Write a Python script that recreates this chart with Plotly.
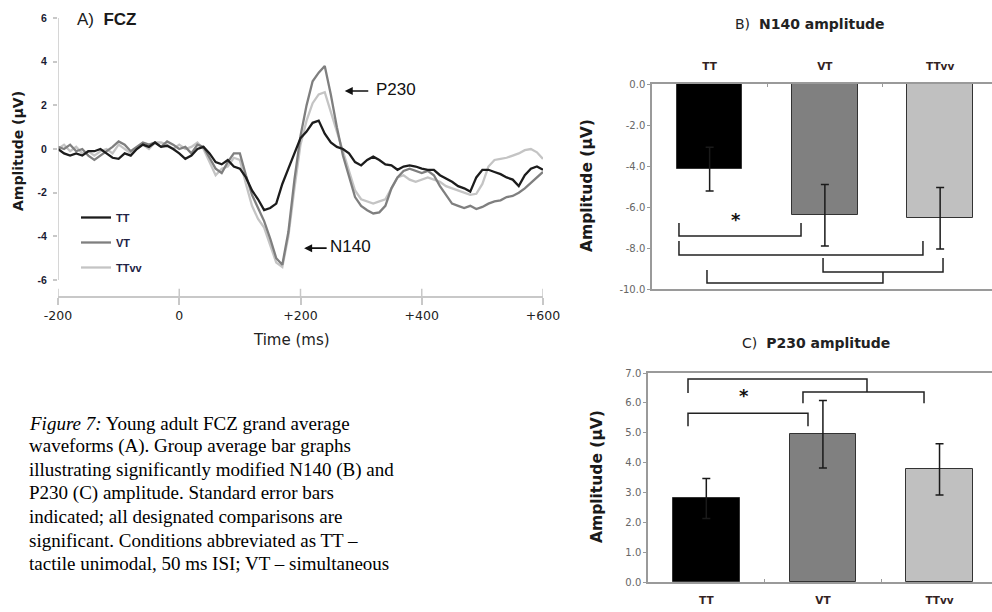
import plotly.graph_objects as go

W, H = 992, 612

# ---------------- Panel A data (FCZ grand average waveforms) ----------------
time_ms = list(range(-200, 601, 10))
tt_uv = [0.0, -0.2, -0.3, -0.2, -0.3, -0.1, -0.1, 0.0, -0.2, -0.4,
         -0.45, -0.2, -0.3, 0.0, 0.2, 0.1, 0.3, 0.1, 0.15, 0.0,
         -0.2, -0.45, -0.3, 0.0, 0.1, -0.2, -0.6, -0.7, -0.5, -0.8,
         -0.9, -1.3, -1.9, -2.3, -2.8, -2.7, -2.5, -1.6, -0.9, -0.2,
         0.5, 0.8, 1.2, 1.3, 0.7, 0.3, 0.1, 0.0, -0.2, -0.6,
         -0.75, -0.5, -0.35, -0.5, -0.7, -0.75, -0.95, -0.8, -0.75, -0.8,
         -0.9, -0.95, -0.95, -1.2, -1.35, -1.5, -1.7, -1.8, -1.95, -1.3,
         -0.95, -0.95, -1.05, -1.15, -1.3, -1.4, -1.7, -1.2, -0.9, -0.8,
         -0.95]
vt_uv = [0.1, 0.0, 0.2, -0.1, 0.0, -0.3, -0.5, -0.3, -0.1, 0.1,
         0.35, 0.2, -0.1, 0.1, 0.3, 0.2, 0.3, 0.1, 0.35, 0.2,
         0.0, 0.1, -0.2, 0.2, 0.1, -0.4, -0.9, -1.1, -0.6, -0.2,
         -0.2, -1.2, -2.1, -2.7, -3.3, -4.1, -5.0, -5.3, -3.8, -1.4,
         0.6, 2.0, 3.1, 3.5, 3.8, 2.5, 1.0, -0.3, -1.2, -2.2,
         -2.6, -2.8, -2.95, -2.9, -2.6, -1.8, -1.3, -1.0, -0.9, -1.0,
         -1.1, -1.0, -1.2, -1.7, -2.1, -2.5, -2.6, -2.7, -2.6, -2.75,
         -2.65, -2.5, -2.4, -2.35, -2.2, -2.15, -2.0, -1.8, -1.55, -1.3,
         -1.05]
ttvv_uv = [0.0, 0.2, -0.1, 0.1, -0.2, -0.1, -0.3, -0.1, 0.0, -0.2,
           0.2, 0.0, -0.2, 0.0, 0.2, 0.0, 0.3, 0.3, 0.2, 0.0,
           0.2, 0.0, 0.1, 0.3, 0.0, -0.6, -1.2, -0.9, -0.8, -0.4,
           -0.5, -1.6, -2.6, -3.2, -3.6, -4.4, -5.2, -5.4, -4.0, -1.8,
           0.2, 1.3, 2.1, 2.5, 2.6, 1.7, 0.8, 0.0, -0.9, -1.9,
           -2.3, -2.4, -2.5, -2.4, -2.3, -1.8, -1.3, -1.2, -1.4, -1.5,
           -1.4, -1.3, -1.4, -1.5, -1.7, -1.8, -1.9, -2.0, -2.1, -2.05,
           -1.6, -0.8, -0.5, -0.45, -0.4, -0.3, -0.2, -0.05, 0.0, -0.15,
           -0.45]

a_yticks = [-6, -4, -2, 0, 2, 4, 6]
a_yticktext = ["-6", "-4", "-2", "0", "2", "4", "6"]
a_xticks = [-200, 0, 200, 400, 600]
a_xticktext = ["-200", "0", "+200", "+400", "+600"]

# ---------------- Panels B and C data ----------------
conditions = ["TT", "VT", "TTvv"]
n140_amp = [-4.15, -6.4, -6.55]
n140_se = [1.07, 1.5, 1.5]
p230_amp = [2.8, 4.95, 3.77]
p230_se = [0.67, 1.13, 0.86]
bar_colors = ["#000000", "#808080", "#c0c0c0"]

b_yticks = [0, -2, -4, -6, -8, -10]
b_yticktext = ["0.0", "-2.0", "-4.0", "-6.0", "-8.0", "-10.0"]
c_yticks = [0, 1, 2, 3, 4, 5, 6, 7]
c_yticktext = ["0.0", "1.0", "2.0", "3.0", "4.0", "5.0", "6.0", "7.0"]

# significance brackets: (x_left, x_right, y_tip_left, y_bar, y_tip_right)
b_brackets = [(-0.266, 0.793, -6.78, -7.41, -6.78),
              (-0.266, 1.851, -7.66, -8.34, -7.66),
              (0.984, 2.025, -8.49, -9.17, -8.49),
              (-0.023, 1.504, -9.07, -9.71, -9.17)]
c_brackets = [(-0.157, 1.378, 6.33, 6.80, 6.36),
              (0.829, 1.867, 5.99, 6.36, 5.99),
              (-0.157, 0.872, 5.22, 5.65, 5.22)]

caption_lines = [
    "<i>Figure 7:</i> Young adult FCZ grand average",
    "waveforms (A). Group average bar graphs",
    "illustrating significantly modified N140 (B) and",
    "P230 (C) amplitude. Standard error bars",
    "indicated; all designated comparisons are",
    "significant. Conditions abbreviated as TT \u2013",
    "tactile unimodal, 50 ms ISI; VT \u2013 simultaneous",
]


def px(x):
    return x / W


def py(y):
    return 1 - y / H


fig = go.Figure()

# waveform traces
wave_series = [("TT", tt_uv, "#1c1c1c", 1), ("VT", vt_uv, "#7f7f7f", 2),
               ("TTvv", ttvv_uv, "#c4c4c4", 3)]
for name, vals, col, rank in reversed(wave_series):
    fig.add_trace(go.Scatter(x=time_ms, y=vals, mode="lines", name="<b>%s</b>" % name,
                             line=dict(color=col, width=2.3),
                             legendgroup=name, legendrank=rank,
                             xaxis="x", yaxis="y"))

# bars
cat_idx = list(range(len(conditions)))
fig.add_trace(go.Bar(x=cat_idx, y=n140_amp, width=0.57,
                     marker=dict(color=bar_colors, line=dict(color="#333333", width=1)),
                     error_y=dict(type="data", array=n140_se, color="#1a1a1a",
                                  thickness=1.5, width=4),
                     showlegend=False, xaxis="x2", yaxis="y2"))
fig.add_trace(go.Bar(x=cat_idx, y=p230_amp, width=0.57,
                     marker=dict(color=bar_colors, line=dict(color="#333333", width=1)),
                     error_y=dict(type="data", array=p230_se, color="#1a1a1a",
                                  thickness=1.5, width=4),
                     showlegend=False, xaxis="x3", yaxis="y3"))

shapes = []
# panel A y-axis line (from -6 to 6)
shapes.append(dict(type="line", xref="x", yref="y", x0=-200, x1=-200, y0=-6, y1=6,
                   line=dict(color="#c8c8c8", width=1.5)))
# inner halves of the crossing x ticks in panel A
A_YMIN = -6.73
for t in a_xticks:
    shapes.append(dict(type="line", xref="x", yref="y", x0=t, x1=t,
                       y0=A_YMIN, y1=A_YMIN + 0.33,
                       line=dict(color="#c8c8c8", width=1.5)))

for br, xr, yr in [(b_brackets, "x2", "y2"), (c_brackets, "x3", "y3")]:
    for (xl, xrr, y1, yb, y2) in br:
        shapes.append(dict(type="path", xref=xr, yref=yr,
                           path=f"M {xl},{y1} L {xl},{yb} L {xrr},{yb} L {xrr},{y2}",
                           line=dict(color="#222222", width=1.5)))

annotations = []


def note(text, x, y, size, family="Liberation Sans, Arial", color="#1a1a1a",
         xanchor="center", angle=0):
    annotations.append(dict(text=text, x=px(x), y=py(y), xref="paper", yref="paper",
                            xanchor=xanchor, yanchor="middle", showarrow=False,
                            textangle=angle, font=dict(family=family, size=size, color=color)))


note("A)  <b>FCZ</b>", 75, 20, 17, xanchor="left")
note("<b>Amplitude (\u00b5V)</b>", 18, 151, 14, family="DejaVu Sans", angle=-90)
note("P230", 374, 89, 17, color="#111111", xanchor="left")
note("N140", 328, 246, 17, color="#111111", xanchor="left")
note("Time (ms)", 291, 340, 15, family="DejaVu Sans", color="#222222")
note("B)  <b>N140 amplitude</b>", 810, 24, 14, family="DejaVu Sans", color="#222222")
note("C)  <b>P230 amplitude</b>", 816, 343, 14, family="DejaVu Sans", color="#222222")
note("<b>Amplitude (\u00b5V)</b>", 587, 186, 15.5, family="DejaVu Sans", angle=-90)
note("<b>Amplitude (\u00b5V)</b>", 597, 477, 15.5, family="DejaVu Sans", angle=-90)

# arrows
annotations.append(dict(x=273, y=2.66, xref="x", yref="y", ax=25, ay=0, text="",
                        showarrow=True, arrowhead=2, arrowsize=1, arrowwidth=1.6,
                        arrowcolor="#111111"))
annotations.append(dict(x=206, y=-4.54, xref="x", yref="y", ax=24, ay=0, text="",
                        showarrow=True, arrowhead=2, arrowsize=1, arrowwidth=1.6,
                        arrowcolor="#111111"))
# stars
annotations.append(dict(text="<b>*</b>", x=0.229, y=-6.63, xref="x2", yref="y2",
                        xanchor="center", yanchor="middle",
                        showarrow=False, font=dict(family="DejaVu Sans", size=18, color="#111111")))
annotations.append(dict(text="<b>*</b>", x=0.323, y=6.23, xref="x3", yref="y3",
                        xanchor="center", yanchor="middle",
                        showarrow=False, font=dict(family="DejaVu Sans", size=18, color="#111111")))
# caption, one annotation per line
for i, line in enumerate(caption_lines):
    note(line, 27, 423 + i * 23.4, 19, family="Liberation Serif, Times New Roman",
         color="#000000", xanchor="left")

axis_gray = "#c8c8c8"
box_gray = "#9a9a9a"

fig.update_layout(
    width=W, height=H, autosize=False,
    margin=dict(l=0, r=0, t=0, b=0),
    paper_bgcolor="white", plot_bgcolor="rgba(0,0,0,0)",
    showlegend=True,
    legend=dict(x=px(76), y=py(203), xanchor="left", yanchor="top",
                bgcolor="rgba(0,0,0,0)", tracegroupgap=6, itemwidth=30,
                traceorder="grouped",
                font=dict(family="Liberation Sans, Arial", size=11, color="#222244"),
                itemclick=False),
    bargap=0,
    xaxis=dict(domain=[px(58), px(543)], range=[-200, 600], anchor="y", automargin=False,
               showgrid=False, zeroline=False, showline=True, linecolor=axis_gray,
               linewidth=1.5, tickvals=a_xticks, ticktext=a_xticktext,
               ticks="outside", ticklen=7, tickcolor=axis_gray, tickwidth=1.5,
               tickfont=dict(family="DejaVu Sans", size=12.5, color="#222222")),
    yaxis=dict(domain=[py(296), py(18)], range=[A_YMIN, 6], anchor="x", automargin=False,
               showgrid=False, zeroline=False, showline=False,
               tickvals=a_yticks, ticktext=["<b>%s</b>" % s for s in a_yticktext],
               ticks="outside", ticklen=4,
               tickcolor=axis_gray, tickwidth=1.5, ticklabelstandoff=4,
               tickfont=dict(family="Liberation Sans, Arial", size=10.5, color="#1a1a33")),
    xaxis2=dict(domain=[px(652), 1], range=[-0.5, 2.45], anchor="y2", side="top",
                automargin=False,
                showgrid=False, zeroline=False, showline=True, mirror=True,
                linecolor=box_gray, linewidth=1.5,
                tickvals=cat_idx, ticktext=["<b>%s</b>" % c for c in conditions], ticks="",
                ticklabelstandoff=8,
                minor=dict(tickvals=[0.5, 1.5], ticks="inside", ticklen=3,
                           tickcolor=box_gray),
                tickfont=dict(family="DejaVu Sans", size=10.5, color="#332222")),
    yaxis2=dict(domain=[py(289), py(84)], range=[-10, 0], anchor="x2", automargin=False,
                showgrid=False, zeroline=False, showline=True, linecolor=box_gray,
                linewidth=1.5, tickvals=b_yticks, ticktext=b_yticktext,
                ticks="outside", ticklen=3, tickcolor=box_gray,
                tickfont=dict(family="DejaVu Sans", size=10, color="#666666")),
    xaxis3=dict(domain=[px(648), 1], range=[-0.5, 2.45], anchor="y3", side="bottom",
                automargin=False,
                showgrid=False, zeroline=False, showline=True, mirror=True,
                linecolor=box_gray, linewidth=1.5,
                tickvals=cat_idx, ticktext=["<b>%s</b>" % c for c in conditions], ticks="",
                ticklabelstandoff=8,
                minor=dict(tickvals=[0.5, 1.5], ticks="inside", ticklen=3,
                           tickcolor=box_gray),
                tickfont=dict(family="DejaVu Sans", size=10.5, color="#332222")),
    yaxis3=dict(domain=[py(582), py(373)], range=[0, 7], anchor="x3", automargin=False,
                showgrid=False, zeroline=False, showline=True, linecolor=box_gray,
                linewidth=1.5, tickvals=c_yticks, ticktext=c_yticktext,
                ticks="outside", ticklen=3, tickcolor=box_gray,
                tickfont=dict(family="DejaVu Sans", size=10, color="#666666")),
    shapes=shapes,
    annotations=annotations,
)

fig.write_html("out.html")
